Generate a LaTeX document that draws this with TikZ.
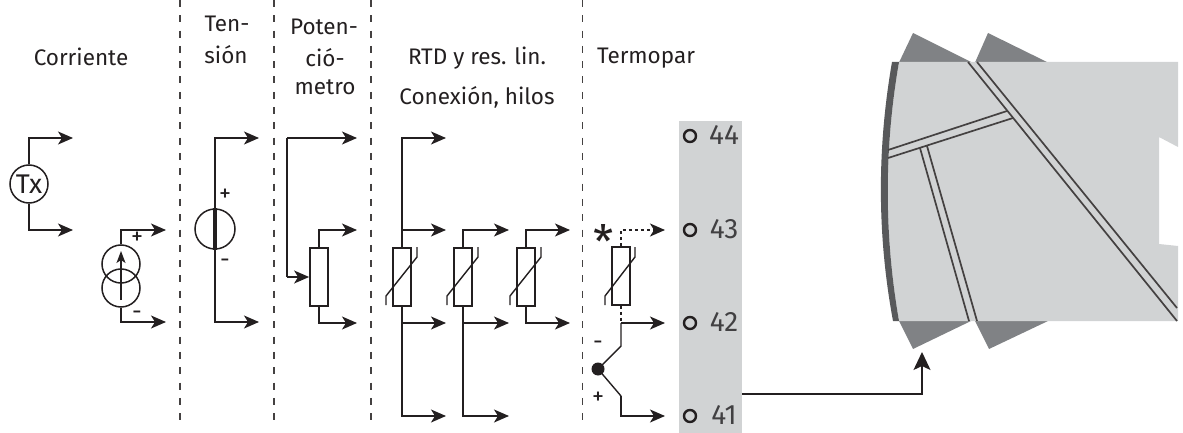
\documentclass[tikz,border=0pt]{standalone}
\usepackage{fontspec}
\setmainfont{Fira Sans}
\usetikzlibrary{arrows.meta}
\definecolor{ink}{HTML}{231F20}
\definecolor{panel}{HTML}{D1D3D4}
\definecolor{tri}{HTML}{808285}
\definecolor{band}{HTML}{58595B}
\definecolor{lbl}{HTML}{414042}
\tikzset{
 wire/.style={draw=ink,line width=1.4pt},
 conn/.style={wire,-{Stealth[length=15pt,width=13pt,inset=4pt]}},
 sep/.style={draw=ink!85!white,line width=1.1pt,dash pattern=on 7pt off 8.3pt},
 res/.style={draw=ink,line width=1.8pt,fill=white,minimum width=18pt,minimum height=58pt,inner sep=0pt,rectangle},
 circ/.style={draw=ink,line width=1.5pt,circle,minimum size=38pt,inner sep=0pt},
 term/.style={draw=ink,line width=2.4pt,circle,minimum size=12pt,inner sep=0pt},
 txt/.style={font=\fontsize{22.5}{24}\selectfont,text=ink,inner sep=0pt,align=center},
 num/.style={font=\fontsize{28}{30}\selectfont,text=lbl,inner sep=0pt},
 sign/.style={font=\fontsize{24}{24}\selectfont,text=ink,inner sep=0pt},
 rail/.style={draw=ink!85!white,line width=1.7pt},
}
\begin{document}
\begin{tikzpicture}[x=1pt,y=-1pt]
\useasboundingbox (0,0) rectangle (1183,433);
% separators
\foreach \n/\x in {a/180,b/274,c/371,d/582.5}{
 \coordinate (s\n t) at (\x,0); \coordinate (s\n b) at (\x,424);
 \draw[sep] (s\n t) -- (s\n b);
}
% headings
\node[txt] (h1) at (81,57) {Corriente};
\node[txt] (h2a) at (227,24) {Ten-};
\node[txt] (h2b) at (226,55) {sión};
\node[txt] (h3a) at (324,27) {Poten-};
\node[txt] (h3b) at (325,58) {ció-};
\node[txt] (h3c) at (325,87) {metro};
\node[txt] (h4a) at (477,58) {RTD y res. lin.};
\node[txt] (h4b) at (477,97) {Conexión, hilos};
\node[txt] (h5) at (646,58) {Termopar};
% Tx
\node[circ,font=\fontsize{27}{27}\selectfont,text=ink] (tx) at (29,184) {Tx};
\coordinate (tx1) at (73,138); \coordinate (tx2) at (73,230);
\draw[conn] (tx.north) |- (tx1);
\draw[conn] (tx.south) |- (tx2);
% current source
\node[circ] (cs1) at (121,264) {};
\node[circ] (cs2) at (121,288) {};
\coordinate (cs1o) at (166,230); \coordinate (cs2o) at (166,322);
\coordinate (csa) at (121,300); \coordinate (csb) at (121,251);
\draw[conn] (cs1.north) |- (cs1o);
\draw[conn] (cs2.south) |- (cs2o);
\draw[wire,-{Stealth[length=12pt,width=9pt,inset=3pt]}] (csa) -- (csb);
\node[sign] (csp) at (137,238) {+};
\node[sign] (csm) at (137,315) {-};
% voltage
\node[circ,minimum size=40pt] (v) at (215,229) {};
\coordinate (v1) at (259,138); \coordinate (v2) at (259,322);
\draw[conn] (v.north) |- (v1);
\draw[conn] (v.south) |- (v2);
\draw[draw=ink,line width=3.5pt] (v.north) -- (v.south);
\node[sign] (vp) at (225,195) {+};
\node[sign] (vm) at (225,263) {-};
% potentiometer
\node[res] (p) at (319,277) {};
\coordinate (p0) at (287,138); \coordinate (p1) at (357,138);
\coordinate (p2) at (357,230); \coordinate (p3) at (357,323);
\draw[wire] (p0) -- (p0 |- p.west);
\draw[conn] (p0) -- (p1);
\draw[conn] (p0 |- p.west) -- (p.west);
\draw[conn] (p.north) |- (p2);
\draw[conn] (p.south) |- (p3);
% RTD resistors
\foreach \n/\x in {r/402,s/463,t/526}{
 \node[res] (\n) at (\x,277) {};
 \draw[wire] (\x-16,305) -- (\x-16,296) -- (\x+15,257) -- (\x+15,247);
}
\coordinate (r0) at (446,138); \coordinate (r1) at (446,230);
\coordinate (r2) at (446,323); \coordinate (r3) at (446,416);
\draw[conn] (r.north) |- (r0);
\draw[conn] (r.north |- r1) -- (r1);
\draw[conn] (r.south |- r2) -- (r2);
\draw[conn] (r.south) |- (r3);
\coordinate (s1) at (509,230); \coordinate (s2) at (509,323); \coordinate (s3) at (509,416);
\draw[conn] (s.north) |- (s1);
\draw[conn] (s.south |- s2) -- (s2);
\draw[conn] (s.south) |- (s3);
\coordinate (t1) at (570,230); \coordinate (t2) at (570,323);
\draw[conn] (t.north) |- (t1);
\draw[conn] (t.south) |- (t2);
% terminal strip
\fill[panel] (679,121) rectangle (742,433);
\coordinate (stripo) at (742,394);
\foreach \k/\y in {44/136,43/230,42/323,41/416}{
 \node[term] (c\k) at (690,\y) {};
 \node[num] (n\k) at (724,\y-1) {\k};
}
% thermocouple
\node[res] (u) at (621,276) {};
\draw[wire] (605,305) -- (605,296) -- (635,257) -- (635,247);
\coordinate (u1) at (665,230); \coordinate (u2) at (665,323);
\coordinate (uj) at (621,323); \coordinate (uk) at (621,346);
\coordinate (ul) at (621,396); \coordinate (u3) at (665,416);
\node[circle,fill=ink,minimum size=13pt,inner sep=0pt] (ud) at (598,369) {};
\draw[conn,dash pattern=on 3.5pt off 2.5pt] (u.north) |- (u1);
\draw[wire,dash pattern=on 3.5pt off 2.5pt] (u.south) -- (uj);
\draw[conn] (uj) -- (u2);
\draw[wire] (uj) -- (uk) -- (ud.center) -- (ul);
\draw[conn] (ul) |- (u3);
\node[font=\fontsize{46}{46}\selectfont,text=ink,inner sep=0pt] (star) at (604,242) {*};
\node[sign] (um) at (598,345) {-};
\node[sign] (up) at (598,398) {+};
% device
\fill[tri] (899,62.5) -- (913,33) -- (972,62.5) -- cycle;
\fill[tri] (975,62.5) -- (988,33) -- (1048,62.5) -- cycle;
\fill[tri] (899,321) -- (913,349) -- (971,321) -- cycle;
\fill[tri] (975,321) -- (989,349) -- (1048,321) -- cycle;
\fill[panel] (899,62) .. controls (884,148) and (884,235) .. (899,321)
 -- (1178,321) -- (1178,246) -- (1159,244) -- (1159,137) -- (1178,147) -- (1178,62) -- cycle;
\fill[band] (892,62) .. controls (877,148) and (877,235) .. (893,321) -- (899,321)
 .. controls (884,235) and (884,148) .. (899,62) -- cycle;
\coordinate (a1) at (968,62); \coordinate (a2) at (1177,321);
\coordinate (b1) at (977,62); \coordinate (b2) at (1177,308);
\coordinate (c1) at (888,150); \coordinate (c2) at (1007,111);
\coordinate (d1) at (888,158); \coordinate (d2) at (1013,118);
\coordinate (e1) at (920,148); \coordinate (e2) at (969,321);
\coordinate (f1) at (927,146); \coordinate (f2) at (977,321);
\draw[rail] (a1) -- (a2); \draw[rail] (b1) -- (b2);
\draw[rail] (c1) -- (c2); \draw[rail] (d1) -- (d2);
\draw[rail] (e1) -- (e2); \draw[rail] (f1) -- (f2);
% link
\coordinate (lk) at (922,352);
\draw[draw=ink,line width=1.6pt,-{Stealth[length=18pt,width=17pt,inset=4pt]}] (stripo) -| (lk);
\end{tikzpicture}
\end{document}
